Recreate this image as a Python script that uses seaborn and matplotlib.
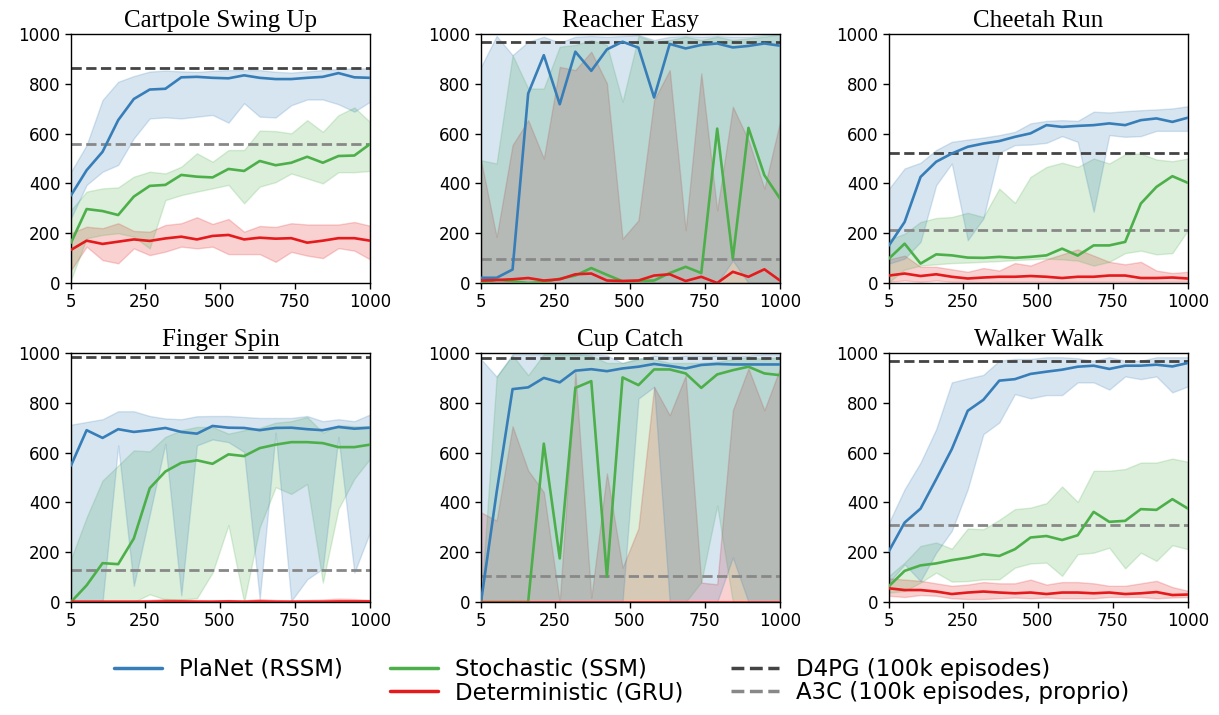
import numpy as np
import pandas as pd
import matplotlib
matplotlib.use("Agg")
import matplotlib.pyplot as plt
from matplotlib.lines import Line2D
import seaborn as sns

sns.set_style("ticks")
plt.rcParams['font.family'] = ['DejaVu Sans']
for k in ["text.color", "axes.labelcolor", "xtick.color", "ytick.color", "axes.edgecolor"]:
    plt.rcParams[k] = "black"

# ---------------- data ----------------
episodes = [5, 57, 110, 162, 214, 267, 319, 372, 424, 476,
            529, 581, 633, 686, 738, 791, 843, 895, 948, 1000]

tasks = ["Cartpole Swing Up", "Reacher Easy", "Cheetah Run",
         "Finger Spin", "Cup Catch", "Walker Walk"]

# Cartpole Swing Up
cart_planet = [352, 453, 527, 654, 739, 777, 780, 826, 828, 824, 822, 834, 824, 819, 819, 824, 828, 843, 826, 824]
cart_planet_lo = [260, 394, 447, 474, 581, 661, 665, 661, 668, 675, 644, 722, 668, 665, 714, 737, 737, 718, 688, 728]
cart_planet_hi = [447, 554, 735, 808, 831, 849, 853, 850, 848, 852, 855, 855, 855, 848, 845, 850, 855, 860, 862, 862]
cart_ssm = [162, 297, 289, 273, 347, 390, 394, 434, 427, 424, 458, 450, 490, 473, 483, 507, 483, 510, 512, 558]
cart_ssm_lo = [12, 180, 193, 200, 186, 139, 333, 353, 367, 380, 394, 320, 387, 405, 440, 420, 400, 445, 445, 450]
cart_ssm_hi = [293, 367, 380, 384, 427, 447, 440, 467, 521, 487, 534, 534, 612, 610, 601, 654, 607, 674, 705, 647]
cart_gru = [133, 170, 157, 166, 175, 169, 179, 186, 175, 189, 193, 175, 182, 178, 180, 162, 170, 180, 180, 170]
cart_gru_lo = [52, 146, 92, 79, 139, 112, 126, 146, 139, 146, 116, 116, 116, 85, 125, 110, 100, 140, 130, 95]
cart_gru_hi = [200, 226, 220, 240, 209, 206, 233, 240, 264, 237, 257, 206, 229, 225, 240, 235, 235, 235, 245, 230]

# Reacher Easy
reach_planet = [21, 21, 54, 761, 915, 718, 929, 852, 938, 969, 945, 745, 960, 942, 956, 962, 946, 952, 962, 953]
reach_planet_lo = [0, 0, 0, 0, 0, 0, 0, 0, 0, 0, 0, 0, 0, 0, 0, 0, 90, 0, 0, 0]
reach_planet_hi = [868, 992, 915, 969, 989, 965, 989, 992, 989, 992, 996, 976, 989, 992, 989, 992, 989, 989, 996, 1000]
reach_ssm = [0, 13, 7, 0, 4, 17, 30, 60, 33, 7, 8, 10, 40, 65, 40, 620, 98, 623, 433, 339]
reach_ssm_lo = [0, 0, 0, 0, 0, 0, 0, 0, 0, 0, 0, 0, 0, 0, 0, 0, 0, 0, 0, 0]
reach_ssm_hi = [493, 480, 915, 781, 781, 949, 956, 976, 956, 728, 992, 969, 976, 989, 976, 989, 976, 983, 989, 999]
reach_gru = [10, 12, 15, 20, 10, 15, 35, 38, 10, 8, 10, 30, 35, 8, 25, 0, 45, 25, 55, 10]
reach_gru_lo = [0, 0, 0, 0, 0, 0, 0, 0, 0, 0, 0, 0, 0, 0, 0, 0, 0, 0, 0, 0]
reach_gru_hi = [493, 185, 554, 654, 500, 868, 855, 929, 802, 178, 252, 735, 855, 212, 842, 292, 708, 574, 379, 647]

# Cheetah Run
cheet_planet = [151, 245, 426, 487, 520, 547, 560, 570, 587, 601, 634, 627, 631, 634, 641, 634, 654, 661, 647, 664]
cheet_planet_lo = [78, 98, 165, 393, 480, 172, 259, 523, 554, 556, 563, 590, 567, 286, 594, 587, 590, 611, 611, 611]
cheet_planet_hi = [379, 460, 483, 534, 567, 576, 584, 594, 607, 641, 651, 654, 651, 688, 685, 690, 694, 697, 701, 710]
cheet_ssm = [98, 158, 78, 115, 111, 102, 101, 105, 101, 105, 111, 138, 110, 151, 151, 165, 319, 386, 429, 402]
cheet_ssm_lo = [4, 54, 70, 75, 80, 82, 85, 88, 92, 95, 98, 95, 90, 70, 85, 120, 130, 115, 120, 212]
cheet_ssm_hi = [174, 198, 245, 261, 265, 282, 265, 379, 322, 426, 466, 483, 466, 500, 480, 517, 520, 496, 489, 500]
cheet_gru = [30, 38, 28, 35, 25, 18, 22, 25, 25, 28, 25, 20, 25, 25, 30, 30, 20, 20, 22, 18]
cheet_gru_lo = [5, 10, 5, 10, 5, 5, 3, 5, 5, 5, 5, 5, 5, 5, 5, 5, 5, 5, 5, 5]
cheet_gru_hi = [95, 110, 65, 65, 55, 45, 60, 50, 80, 70, 95, 115, 135, 110, 85, 75, 85, 50, 40, 45]

# Finger Spin
finger_planet = [548, 690, 659, 694, 683, 690, 699, 683, 676, 707, 700, 699, 690, 699, 700, 694, 690, 703, 696, 700]
finger_planet_lo = [0, 0, 0, 629, 65, 351, 636, 27, 629, 653, 642, 603, 11, 680, 4, 91, 134, 663, 118, 280]
finger_planet_hi = [712, 723, 734, 766, 766, 747, 737, 734, 746, 747, 747, 743, 739, 739, 739, 747, 726, 734, 726, 753]
finger_ssm = [0, 67, 156, 152, 255, 457, 524, 559, 569, 555, 593, 586, 618, 632, 642, 642, 638, 622, 622, 632]
finger_ssm_lo = [0, 0, 0, 0, 0, 31, 10, 10, 15, 118, 309, 0, 300, 461, 434, 474, 78, 374, 495, 575]
finger_ssm_hi = [172, 340, 488, 548, 609, 605, 663, 690, 703, 703, 676, 690, 699, 720, 726, 743, 680, 710, 706, 706]
finger_gru = [1, 1, 1, 1, 1, 1, 2, 2, 1, 1, 2, 1, 2, 1, 1, 1, 1, 2, 2, 2]
finger_gru_lo = [0, 0, 0, 0, 0, 0, 0, 0, 0, 0, 0, 0, 0, 0, 0, 0, 0, 0, 0, 0]
finger_gru_hi = [5, 5, 5, 5, 5, 8, 12, 10, 8, 6, 8, 6, 12, 8, 6, 8, 10, 14, 12, 8]

# Cup Catch
cup_planet = [0, 441, 855, 862, 900, 882, 929, 935, 927, 938, 945, 956, 948, 938, 952, 956, 954, 954, 954, 954]
cup_planet_lo = [0, 0, 0, 0, 0, 0, 0, 0, 0, 0, 817, 864, 0, 0, 0, 0, 179, 0, 0, 0]
cup_planet_hi = [975, 905, 995, 995, 995, 995, 995, 995, 990, 960, 975, 990, 985, 990, 990, 990, 990, 990, 995, 995]
cup_ssm = [0, 0, 0, 0, 636, 175, 860, 887, 102, 902, 871, 934, 934, 918, 860, 914, 931, 945, 918, 911]
cup_ssm_lo = [0, 0, 0, 0, 0, 0, 0, 0, 0, 0, 0, 0, 0, 0, 80, 387, 0, 0, 0, 0]
cup_ssm_hi = [0, 905, 990, 911, 995, 995, 995, 990, 960, 960, 980, 975, 960, 960, 960, 965, 975, 985, 975, 985]
cup_gru = [0, 0, 0, 0, 0, 0, 0, 0, 0, 0, 0, 0, 0, 0, 0, 0, 0, 0, 0, 0]
cup_gru_lo = [0, 0, 0, 0, 0, 0, 0, 0, 0, 0, 0, 0, 0, 0, 0, 0, 0, 0, 0, 0]
cup_gru_hi = [360, 327, 706, 528, 441, 0, 925, 17, 517, 138, 296, 864, 750, 909, 78, 71, 770, 938, 770, 938]

# Walker Walk
walk_planet = [205, 319, 375, 493, 614, 768, 812, 889, 895, 916, 925, 933, 945, 949, 936, 949, 949, 953, 946, 960]
walk_planet_lo = [78, 151, 84, 198, 286, 453, 674, 721, 835, 818, 831, 831, 882, 882, 853, 906, 895, 906, 842, 866]
walk_planet_hi = [319, 453, 560, 694, 882, 898, 912, 969, 976, 976, 983, 983, 979, 969, 983, 969, 969, 983, 983, 983]
walk_ssm = [64, 125, 147, 155, 168, 178, 192, 185, 212, 259, 265, 249, 268, 362, 322, 326, 373, 370, 413, 375]
walk_ssm_lo = [38, 44, 78, 118, 82, 84, 91, 91, 138, 155, 158, 105, 192, 198, 218, 135, 198, 165, 228, 212]
walk_ssm_hi = [105, 158, 225, 239, 214, 295, 292, 330, 373, 379, 397, 464, 402, 527, 527, 534, 560, 560, 576, 563]
walk_gru = [55, 48, 48, 42, 32, 38, 42, 38, 35, 38, 32, 38, 38, 35, 38, 32, 35, 40, 28, 30]
walk_gru_lo = [25, 20, 28, 25, 15, 12, 12, 15, 18, 15, 18, 15, 15, 15, 20, 20, 20, 15, 18, 20]
walk_gru_hi = [95, 90, 85, 75, 65, 70, 80, 75, 75, 90, 70, 80, 80, 75, 65, 65, 75, 85, 60, 45]

d4pg_scores = [862, 967, 524, 985, 980, 968]
a3c_scores = [558, 95, 214, 130, 105, 310]

methods = ["PlaNet (RSSM)", "Stochastic (SSM)", "Deterministic (GRU)"]
baseline_labels = ["D4PG (100k episodes)", "A3C (100k episodes, proprio)"]
x_ticks = [5, 250, 500, 750, 1000]
y_ticks = [0, 200, 400, 600, 800, 1000]

# ---------------- assemble ----------------
series = {
    "Cartpole Swing Up": [(cart_planet, cart_planet_lo, cart_planet_hi),
                          (cart_ssm, cart_ssm_lo, cart_ssm_hi),
                          (cart_gru, cart_gru_lo, cart_gru_hi)],
    "Reacher Easy": [(reach_planet, reach_planet_lo, reach_planet_hi),
                     (reach_ssm, reach_ssm_lo, reach_ssm_hi),
                     (reach_gru, reach_gru_lo, reach_gru_hi)],
    "Cheetah Run": [(cheet_planet, cheet_planet_lo, cheet_planet_hi),
                    (cheet_ssm, cheet_ssm_lo, cheet_ssm_hi),
                    (cheet_gru, cheet_gru_lo, cheet_gru_hi)],
    "Finger Spin": [(finger_planet, finger_planet_lo, finger_planet_hi),
                    (finger_ssm, finger_ssm_lo, finger_ssm_hi),
                    (finger_gru, finger_gru_lo, finger_gru_hi)],
    "Cup Catch": [(cup_planet, cup_planet_lo, cup_planet_hi),
                  (cup_ssm, cup_ssm_lo, cup_ssm_hi),
                  (cup_gru, cup_gru_lo, cup_gru_hi)],
    "Walker Walk": [(walk_planet, walk_planet_lo, walk_planet_hi),
                    (walk_ssm, walk_ssm_lo, walk_ssm_hi),
                    (walk_gru, walk_gru_lo, walk_gru_hi)],
}

rows = []
for t in tasks:
    for m, (mean, lo, hi) in zip(methods, series[t]):
        for e, v, l, h in zip(episodes, mean, lo, hi):
            rows.append(dict(task=t, method=m, episodes=e, score=v, lo=l, hi=h))
df = pd.DataFrame(rows)

palette = {"PlaNet (RSSM)": "#377eb8",
           "Stochastic (SSM)": "#4daf4a",
           "Deterministic (GRU)": "#e41a1c"}
d4pg_color = "#444444"
a3c_color = "#888888"

# ---------------- figure ----------------
W, H = 1219, 715
fig = plt.figure(figsize=(W / 100, H / 100), dpi=100)

col_left = [71, 481, 889]
row_top = [34, 353]
ax_w, ax_h = 299, 249

for i, t in enumerate(tasks):
    r, c = divmod(i, 3)
    left = col_left[c] / W
    bottom = 1 - (row_top[r] + ax_h) / H
    ax = fig.add_axes([left, bottom, ax_w / W, ax_h / H])
    sub = df[df.task == t]
    # bands: GRU first, then SSM, then PlaNet on top
    for m in methods[::-1]:
        s = sub[sub.method == m]
        ax.fill_between(s.episodes, s.lo, s.hi, color=palette[m], alpha=0.2,
                        lw=1, zorder=1)
    ax.axhline(d4pg_scores[i], color=d4pg_color, ls="--", lw=2, zorder=2)
    ax.axhline(a3c_scores[i], color=a3c_color, ls="--", lw=2, zorder=2)
    sns.lineplot(data=sub, x="episodes", y="score", hue="method",
                 hue_order=methods, palette=palette, ax=ax, legend=False,
                 errorbar=None, lw=1.9, zorder=3)
    ax.set_xlim(5, 1000)
    ax.set_ylim(0, 1000)
    ax.set_xticks(x_ticks)
    ax.set_yticks(y_ticks)
    ax.set_xlabel("")
    ax.set_ylabel("")
    ax.tick_params(labelsize=12, length=4, width=1, colors="black")
    for sp in ax.spines.values():
        sp.set_visible(True)
        sp.set_linewidth(1)
        sp.set_color("black")
    ax.set_title(t, fontsize=18, family=["Liberation Serif", "DejaVu Serif"],
                 pad=5, color="black")

handles = [Line2D([], [], color=palette[methods[0]], lw=2.5),
           Line2D([], [], color="none", lw=0),
           Line2D([], [], color=palette[methods[1]], lw=2.5),
           Line2D([], [], color=palette[methods[2]], lw=2.5),
           Line2D([], [], color=d4pg_color, lw=2.5, ls="--"),
           Line2D([], [], color=a3c_color, lw=2.5, ls="--")]
labels = [methods[0], "", methods[1], methods[2], baseline_labels[0], baseline_labels[1]]
fig.legend(handles, labels, ncol=3, loc="center",
           bbox_to_anchor=(0.51, 1 - 681 / H), frameon=False, fontsize=16.5,
           labelspacing=0.0, handlelength=2.1, handletextpad=0.75,
           columnspacing=2.05, labelcolor="black")

fig.savefig("out.png", dpi=100)
